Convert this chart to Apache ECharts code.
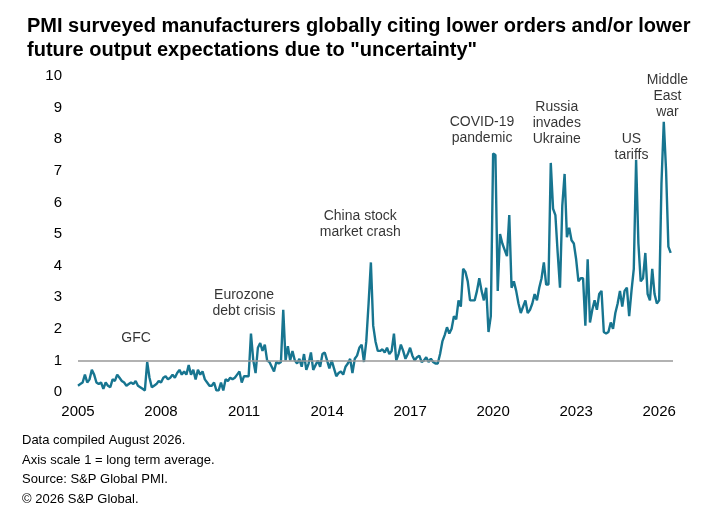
<!DOCTYPE html><html><head><meta charset="utf-8"><script src="https://cdn.jsdelivr.net/npm/echarts@6/dist/echarts.min.js"></script>
<style>body{margin:0}#c{width:714px;height:528px}</style></head><body><div id="c"></div><script>
const startYear = 2005;
const values = [
0.2,0.25,0.3,0.55,0.3,0.4,0.7,0.55,0.3,0.25,0.3,0.1,
0.3,0.2,0.15,0.4,0.35,0.55,0.45,0.35,0.3,0.2,0.25,0.3,
0.25,0.35,0.2,0.15,0.1,0.05,0.95,0.45,0.15,0.2,0.25,0.35,
0.3,0.45,0.5,0.4,0.45,0.55,0.45,0.6,0.7,0.55,0.65,0.55,
0.85,0.55,0.7,0.4,0.7,0.55,0.65,0.4,0.3,0.2,0.2,0.3,
0.05,0.05,0.3,0.05,0.4,0.35,0.45,0.4,0.45,0.55,0.65,0.3,
0.5,0.5,0.5,1.85,1.0,0.6,1.4,1.55,1.3,1.5,1.0,0.95,
0.8,0.65,0.95,0.9,0.95,2.6,1.0,1.45,1.0,1.3,1.0,0.9,
1.05,0.8,1.2,0.7,0.9,1.25,0.7,0.85,1.0,0.8,1.2,1.25,
1.0,0.75,1.0,0.75,0.5,0.6,0.65,0.55,0.8,0.9,1.05,0.6,
1.05,1.15,1.4,1.5,0.95,1.6,2.8,4.1,2.1,1.6,1.3,1.3,
1.35,1.25,1.4,1.2,1.3,1.85,1.0,1.2,1.5,1.3,1.05,1.2,
1.4,1.15,1.0,1.1,1.15,0.95,1.0,1.1,0.95,1.05,0.95,0.9,
0.9,1.2,1.6,1.8,2.05,1.85,2.0,2.4,2.3,2.9,2.7,3.9,
3.8,3.5,2.9,2.9,2.9,3.2,3.6,3.2,2.9,3.3,1.9,2.4,
7.55,7.5,3.2,5.0,4.7,4.5,4.3,5.6,3.3,3.5,3.2,2.8,
2.5,2.7,2.9,2.5,2.6,2.8,3.1,2.9,3.3,3.6,4.1,3.4,
3.4,7.25,5.8,5.6,4.4,3.3,5.9,6.9,4.9,5.2,4.8,4.7,
4.2,3.5,3.6,3.6,2.1,4.2,2.2,2.6,2.9,2.6,3.1,3.2,
1.9,1.85,1.9,2.2,2.0,2.5,2.8,3.2,2.7,3.2,3.3,2.4,
3.2,3.9,7.35,4.7,3.5,3.6,4.4,3.1,2.9,3.9,3.1,2.8,
2.9,6.6,8.55,7.0,4.6,4.4];
const yearTicks = [2005,2008,2011,2014,2017,2020,2023,2026];
const annotations = [
 {text:'GFC', x:2007.1, y:1.7},
 {text:'Eurozone\ndebt crisis', x:2011.0, y:2.8},
 {text:'China stock\nmarket crash', x:2015.2, y:5.3},
 {text:'COVID-19\npandemic', x:2019.6, y:8.3},
 {text:'Russia\ninvades\nUkraine', x:2022.3, y:8.5},
 {text:'US\ntariffs', x:2025.0, y:7.75},
 {text:'Middle\nEast\nwar', x:2026.3, y:9.35}
];
const data = values.map((v,i)=>[startYear + i/12, v]);
const chart = echarts.init(document.getElementById('c'));
const F = 'Liberation Sans, Arial, sans-serif';
chart.setOption({
 animation:false,
 title:{text:'PMI surveyed manufacturers globally citing lower orders and/or lower\nfuture output expectations due to "uncertainty"',left:22,top:9,
   textStyle:{fontFamily:F,fontSize:20,fontWeight:'bold',color:'#000',lineHeight:24}},
 grid:{left:78,right:41,top:76,bottom:136},
 xAxis:{type:'value',min:2005,max:2026.5,
   axisLine:{show:false},axisTick:{show:false},splitLine:{show:false},
   axisLabel:{color:'#000',fontFamily:F,fontSize:15,margin:12,customValues:yearTicks,formatter:v=>String(v)}},
 yAxis:{type:'value',min:0,max:10,interval:1,
   axisLine:{show:false},axisTick:{show:false},splitLine:{show:false},
   axisLabel:{color:'#000',fontFamily:F,fontSize:15,margin:16}},
 series:[{type:'line',data:data,showSymbol:false,lineStyle:{color:'#177590',width:2.4},
   markLine:{silent:true,symbol:'none',label:{show:false},lineStyle:{color:'#999',type:'solid',width:1.5},
     data:[{yAxis:1}]},z:3},
  {type:'scatter',data:annotations.map(a=>({value:[a.x,a.y],name:a.text})),symbolSize:0,
   label:{show:true,formatter:p=>p.name,fontFamily:F,fontSize:14,color:'#000',lineHeight:16,position:'inside'}}],
 graphic:[{type:'text',left:22,top:431,style:{text:'Data compiled August 2026.\nAxis scale 1 = long term average.\nSource: S&P Global PMI.\n© 2026 S&P Global.',
   font:'13px '+F,fill:'#000',lineHeight:19.5}}]
});
</script></body></html>
